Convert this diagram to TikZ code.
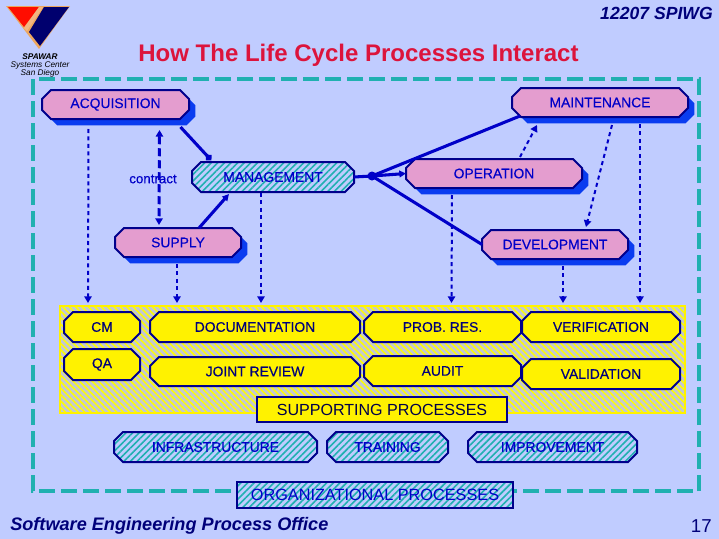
\documentclass[tikz,border=0pt]{standalone}
\usepackage{fontspec}
\setmainfont{Liberation Sans}
\newfontfamily\semib[FakeBold=0.3]{Liberation Sans}
\usetikzlibrary{patterns.meta,shadows,arrows.meta,calc}
\definecolor{bgc}{HTML}{C0CCFF}
\definecolor{bord}{HTML}{00008C}
\definecolor{ink}{HTML}{0000C8}
\definecolor{deep}{HTML}{00007A}
\definecolor{shad}{HTML}{0A3CF0}
\definecolor{teal}{HTML}{20B0B0}
\definecolor{pinkb}{HTML}{F4A8D4}
\definecolor{crim}{HTML}{DC143C}
\definecolor{bandg}{HTML}{C4C8D0}
\tikzset{
  x=0.75pt,y=-0.75pt,
  cham/.style={draw=bord,line width=1.5pt,line join=miter},
  pinkbox/.style={cham,general shadow={shadow xshift=4.8pt,shadow yshift=-4.8pt,fill=shad,opacity=1},
    preaction={fill=pinkb},pattern={Dots[distance=1.5pt,radius=0.36pt]},pattern color=bord!75!pinkb},
  tealbox/.style={cham,preaction={fill=bgc},pattern={Lines[angle=45,distance=3.5pt,line width=1.2pt]},pattern color=teal},
  yelbox/.style={cham,fill=yellow},
  pinkboxt/.style={text=ink},
  tealboxt/.style={text=ink},
  yelboxt/.style={text=deep},
  sq/.style={rectangle,inner sep=0pt,outer sep=0pt,draw=bord,line width=1.5pt},
  solidc/.style={draw=ink,line width=2.3pt},
  dashc/.style={draw=ink,line width=1.5pt,dash pattern=on 3pt off 2.6pt,-{Triangle[length=5pt,width=5.5pt,sep=0pt]}},
  dasht/.style={draw=teal,line width=2.3pt,dash pattern=on 12pt off 4.5pt},
}
\newcommand{\bx}[7]{%
  \path[#1] ({#2+9},#3) -- ({#4-9},#3) -- (#4,{#3+9}) -- (#4,{#5-9}) -- ({#4-9},#5) -- ({#2+9},#5) -- (#2,{#5-9}) -- (#2,{#3+9}) -- cycle;
  \node[#1t,rectangle,inner sep=0pt,outer sep=0pt,minimum width=(#4-#2)*0.75pt,minimum height=(#5-#3)*0.75pt] (#6) at ({(#2+#4)/2},{(#3+#5)/2}) {#7};}
\newcommand{\bxs}[7][]{\node[sq,minimum width=(#4-#2)*0.75pt,minimum height=(#5-#3)*0.75pt,#1] (#6) at ({(#2+#4)/2},{(#3+#5)/2}) {#7};}
\begin{document}
\begin{tikzpicture}
\fill[bgc] (0,0) rectangle (719,539);
\useasboundingbox (0,0) rectangle (719,539);
% logo
\fill[orange!60!brown!70!white] (6,6)--(70,6)--(39,49)--cycle;
\fill[red!90!orange] (8,7)--(39,7)--(24,27)--cycle;
\fill[bgc!30!orange!70!white] (39,7)--(43,7)--(27,31)--(24,28)--cycle;
\fill[deep!90!black] (44,7)--(69,7)--(40,46)--(29,32)--cycle;
\node[font=\fontsize{6.2}{6}\selectfont\itshape,text=black,align=center,inner sep=0pt] (logotext) at (40,65.5) {\textbf{SPAWAR}\\Systems Center\\San Diego};
% texts
\node[font=\fontsize{13.2}{15}\selectfont\itshape\bfseries,text=deep,inner sep=0pt,anchor=east] (hdr) at (713,13) {12207 SPIWG};
\node[font=\fontsize{18}{20}\selectfont\bfseries,text=crim,inner sep=0pt] (title) at (358.5,55) {How The Life Cycle Processes Interact};
\node[font=\fontsize{13.6}{15}\selectfont\itshape\bfseries,text=deep,inner sep=0pt,anchor=west] (foot) at (10,526) {Software Engineering Process Office};
\node[font=\fontsize{14}{15}\selectfont,text=deep,inner sep=0pt,anchor=east] (pg) at (712,526) {17};
% dashed frame
\draw[dasht] (33,79) rectangle (699,491);
% band
\draw[draw=yellow,line width=2.2pt,preaction={fill=bandg},pattern={Lines[angle=-45,distance=3.4pt,line width=1.1pt]},pattern color=yellow] (60,306) rectangle (685,413);
\tikzset{every node/.append style={font=\semib\fontsize{10.4}{12}\selectfont}}
% top boxes
\bx{pinkbox}{42}{90}{189}{119}{acq}{ACQUISITION}
\bx{tealbox}{192}{162}{354}{192}{mgmt}{MANAGEMENT}
\bx{pinkbox}{115}{228}{241}{257}{sup}{SUPPLY}
\bx{pinkbox}{512}{88}{688}{117}{maint}{MAINTENANCE}
\bx{pinkbox}{406}{159}{582}{188}{oper}{OPERATION}
\bx{pinkbox}{482}{230}{628}{259}{dev}{DEVELOPMENT}
% supporting
\bx{yelbox}{64}{312}{140}{342}{cm}{CM}
\bx{yelbox}{64}{349}{140}{380}{qa}{QA}
\bx{yelbox}{150}{312}{360}{342}{doc}{DOCUMENTATION}
\bx{yelbox}{150}{357}{360}{386}{joint}{JOINT REVIEW}
\bx{yelbox}{364}{312}{521}{342}{prob}{PROB. RES.}
\bx{yelbox}{364}{356}{521}{386}{audit}{AUDIT}
\bx{yelbox}{522}{312}{680}{342}{verif}{VERIFICATION}
\bx{yelbox}{522}{359}{680}{389}{valid}{VALIDATION}
\bxs[font=\fontsize{12.05}{14}\selectfont,fill=yellow,text=black!40!deep]{257}{397}{507}{422}{supp}{SUPPORTING PROCESSES}
% organizational
\bx{tealbox}{114}{432}{317}{462}{infra}{INFRASTRUCTURE}
\bx{tealbox}{327}{432}{448}{462}{train}{TRAINING}
\bx{tealbox}{468}{432}{637}{462}{impr}{IMPROVEMENT}
\bxs[font=\fontsize{12.2}{14}\selectfont,preaction={fill=bgc},pattern={Lines[angle=45,distance=3.5pt,line width=1.2pt]},pattern color=teal,text=ink]{237}{482}{513}{508}{org}{ORGANIZATIONAL PROCESSES}
% solid connectors
\coordinate (hub) at (372,176);
\draw[solidc,-{Circle[length=5pt]}] ([shift={(65,8)}]acq.south) -- ([shift={(-62,-2)}]mgmt.north);
\draw[solidc,-{Triangle[length=5pt,width=5pt]}] ([shift={(21,0)}]sup.north) -- ([shift={(-44,2)}]mgmt.south);
\draw[solidc] (mgmt.east) -- (hub);
\draw[solidc] (hub) -- ([shift={(-80,-1)}]maint.south);
\draw[solidc,-{Triangle[length=5pt,width=5pt]}] (hub) -- (oper.west);
\draw[solidc] (hub) -- (dev.west);
\fill[ink] (hub) circle (4.5);
% dashed connectors
\draw[dashc,{Triangle[length=5pt,width=5.5pt]}-{Triangle[length=5pt,width=5.5pt]},line width=2.2pt,dash pattern=on 6pt off 3pt] ([shift={(44,11)}]acq.south) -- ([shift={(-19,-3)}]sup.north);
\draw[dashc] ([shift={(-27,10)}]acq.south) -- ([shift={(-14,-9)}]cm.north);
\draw[dashc] ([shift={(-1,7)}]sup.south) -- ([shift={(-78,-9)}]doc.north);
\draw[dashc] ([shift={(-12,1)}]mgmt.south) -- ([shift={(6,-9)}]doc.north);
\draw[dashc] ([shift={(-42,7)}]oper.south) -- ([shift={(9,-9)}]prob.north);
\draw[dashc] ([shift={(8,7)}]dev.south) -- ([shift={(-38,-9)}]verif.north);
\draw[dashc] ([shift={(40,7)}]maint.south) -- ([shift={(39,-9)}]verif.north);
\draw[dashc] ([shift={(26,-2)}]oper.north) -- ([shift={(-63,8)}]maint.south);
\draw[dashc] ([shift={(12,8)}]maint.south) -- ([shift={(31,-3)}]dev.north);
\node[font=\semib\fontsize{10}{12}\selectfont,text=ink,inner sep=0pt] (contr) at (153,179) {contract};
\end{tikzpicture}
\end{document}
